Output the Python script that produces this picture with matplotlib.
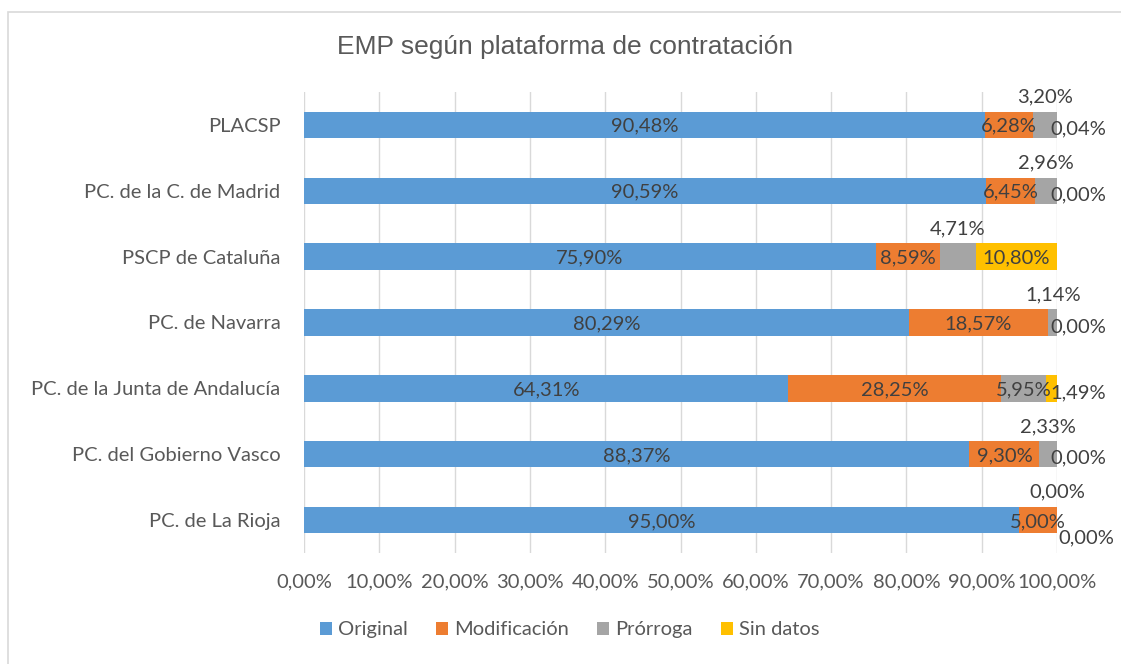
import numpy as np
import matplotlib.pyplot as plt
from matplotlib.patches import Rectangle
from matplotlib.ticker import FuncFormatter

plt.rcParams['font.family'] = ['Lato', 'DejaVu Sans']

platforms = ["PLACSP", "PC. de la C. de Madrid", "PSCP de Cataluña", "PC. de Navarra",
             "PC. de la Junta de Andalucía", "PC. del Gobierno Vasco", "PC. de La Rioja"]
original = [90.48, 90.59, 75.90, 80.29, 64.31, 88.37, 95.00]
modificacion = [6.28, 6.45, 8.59, 18.57, 28.25, 9.30, 5.00]
prorroga = [3.20, 2.96, 4.71, 1.14, 5.95, 2.33, 0.00]
sin_datos = [0.04, 0.00, 10.80, 0.00, 1.49, 0.00, 0.00]
series_names = ["Original", "Modificación", "Prórroga", "Sin datos"]
colors = ["#5B9BD5", "#ED7D31", "#A5A5A5", "#FFC000"]

FS = 14.5
fig = plt.figure(figsize=(11.21, 6.64), dpi=100)
ax = fig.add_axes([0.2712, 0.1672, 0.6717, 0.6943])

y = np.arange(len(platforms))
series = [original, modificacion, prorroga, sin_datos]
left = np.zeros(len(platforms))
for vals, name, col in zip(series, series_names, colors):
    vals = np.array(vals)
    ax.barh(y, vals, left=left, height=0.40, color=col, label=name, zorder=3)
    left = left + vals

# data labels (Excel-like placement)
lab_kw = dict(fontsize=FS, color="#404040", zorder=5)
def fmt(v):
    return f"{v:.2f}%".replace(".", ",")

for i in range(len(platforms)):
    start = 0.0
    for s, vals in enumerate(series):
        v = vals[i]
        c = start + v / 2
        if s == 2 and v < 5:
            # small Prórroga: above the bar
            ax.annotate(fmt(v), (c, i), xytext=(0, 20), textcoords="offset points",
                        ha="center", va="center", **lab_kw)
        elif s == 3 and v < 4:
            below = (v == 0 and prorroga[i] == 0)
            dx, dy = (21, -13) if below else (15, -3)
            ax.annotate(fmt(v), (100, i), xytext=(dx, dy), textcoords="offset points",
                        ha="center", va="center", **lab_kw)
        else:
            ax.annotate(fmt(v), (c, i), xytext=(0, -1), textcoords="offset points",
                        ha="center", va="center", **lab_kw)
        start += v

ax.set_xlim(0, 100)
ax.set_ylim(6.5, -0.5)
ax.set_xticks(np.arange(0, 101, 10))
ax.xaxis.set_major_formatter(FuncFormatter(lambda v, p: f"{v:.2f}%".replace(".", ",")))
ax.set_yticks(y)
ax.set_yticklabels(platforms)
ax.tick_params(axis="both", length=0, labelsize=FS, labelcolor="#595959")
ax.tick_params(axis="x", pad=15)
ax.tick_params(axis="y", pad=17)
ax.grid(axis="x", color="#D9D9D9", linewidth=1, zorder=0)
for sp in ax.spines.values():
    sp.set_visible(False)

fig.text(0.504, 0.929, "EMP según plataforma de contratación", ha="center", va="center",
         fontsize=19, color="#595959", family=["Liberation Sans", "DejaVu Sans"])

ax.legend(loc="center", bbox_to_anchor=(0.353, -0.167), ncol=4, frameon=False,
          fontsize=FS, labelcolor="#595959", handlelength=0.6, handleheight=0.6,
          handletextpad=0.3, columnspacing=1.4)

fig.patches.append(Rectangle((0.007, -0.01), 1.2, 0.992, transform=fig.transFigure,
                             fill=False, edgecolor="#D9D9D9", linewidth=1.2))

fig.savefig("out.png", dpi=100)
